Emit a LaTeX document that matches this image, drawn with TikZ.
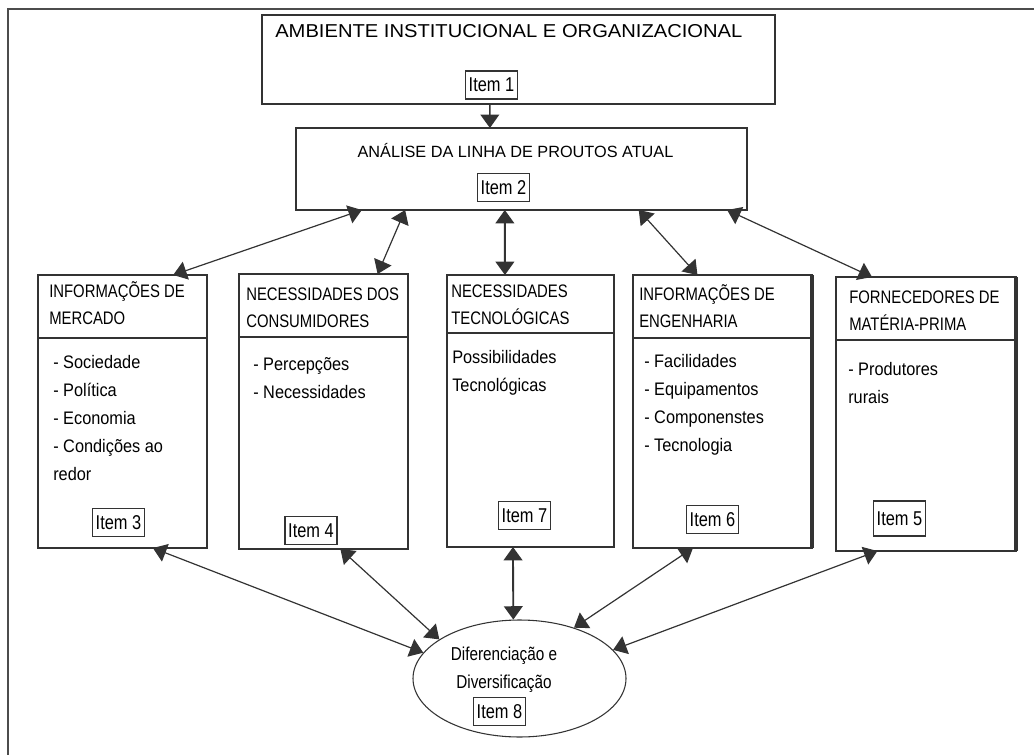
\documentclass[tikz,border=0pt]{standalone}
\usepackage{fontspec}
\setmainfont{Liberation Sans}
\newfontfamily\fcab[FakeStretch=0.82]{Liberation Sans}
\newfontfamily\fcorpo[FakeStretch=0.9]{Liberation Sans}
\newfontfamily\flarga[FakeStretch=1.08]{Liberation Sans}
\usetikzlibrary{positioning, arrows.meta, shapes.geometric, calc}
\definecolor{linha}{gray}{0.2}

\begin{document}
\begin{tikzpicture}[x=0.75pt, y=-0.75pt,
    caixa/.style={draw=linha, line width=1.1pt, inner sep=0pt, outer sep=0pt},
    itembox/.style={draw=linha, line width=1.1pt, font=\fcab\fontsize{15}{18}\selectfont, inner sep=2.5pt, minimum height=21pt},
    cab/.style={font=\fcab\fontsize{13.6}{20.25}\selectfont, align=left, anchor=base west, inner sep=0pt},
    corpo/.style={font=\fcorpo\fontsize{13.6}{21}\selectfont, align=left, anchor=base west, inner sep=0pt},
    seta/.style={{Triangle[length=10pt,width=14pt]}-{Triangle[length=10pt,width=14pt]}, line width=0.9pt, linha}]

  \useasboundingbox (0,0) rectangle (1034,755);
  \draw[line width=1.5pt, black!70] (8,770) -- (8,9) -- (1050,9);

  % --- topo ---
  \node[caixa, minimum width=384.75pt, minimum height=66.75pt] (b1) at (518.5,59.5) {};
  \node[font=\flarga\fontsize{14}{16}\selectfont, anchor=base west, inner sep=0pt] (t1) at (275,38) {AMBIENTE INSTITUCIONAL E ORGANIZACIONAL};
  \node[itembox] (i1) at (491.5,85) {Item 1};

  \node[caixa, minimum width=338.25pt, minimum height=61.5pt] (b2) at (521.5,169) {};
  \node[font=\fontsize{12.2}{14}\selectfont, anchor=base, inner sep=0pt] (t2) at (515.5,158) {ANÁLISE DA LINHA DE PROUTOS ATUAL};
  \node[itembox] (i2) at (503.5,187.5) {Item 2};

  \draw[-{Triangle[length=10pt,width=14pt]}, line width=1.1pt, linha]
    ($(b1.south west)!0.444!(b1.south east)$) -- ($(b2.north west)!0.43!(b2.north east)$);

  % --- blocos (texto ancorado na ultima linha) ---
  \node[caixa, minimum width=126.75pt, minimum height=204.75pt] (b3) at (122.5,411.5) {};
  \draw[caixa] (b3.west |- 0,338) -- (b3.east |- 0,338);
  \node[cab] (t3) at (49,325) {INFORMAÇÕES DE\\MERCADO};
  \node[corpo] (l3) at (53,480) {- Sociedade\\- Política\\- Economia\\- Condições ao\\redor};
  \node[itembox] (i3) at (118.5,522.5) {Item 3};

  \node[caixa, minimum width=126.75pt, minimum height=206.25pt] (b4) at (323.5,411.5) {};
  \draw[line width=2.2pt, linha] (b4.north west) -- (b4.south west);
  \draw[caixa] (b4.west |- 0,337) -- (b4.east |- 0,337);
  \node[cab] (t4) at (246,327) {NECESSIDADES DOS\\CONSUMIDORES};
  \node[corpo] (l4) at (253,398) {- Percepções\\- Necessidades};
  \node[itembox] (i4) at (311,530.5) {Item 4};

  \node[caixa, minimum width=125.25pt, minimum height=204pt] (b7) at (530.5,411) {};
  \draw[caixa] (b7.west |- 0,333) -- (b7.east |- 0,333);
  \node[cab] (t7) at (451,325) {NECESSIDADES\\TECNOLÓGICAS};
  \node[corpo] (l7) at (452,391) {Possibilidades\\Tecnológicas};
  \node[itembox] (i7) at (524.5,515.5) {Item 7};

  \node[caixa, minimum width=134.25pt, minimum height=204.75pt] (b6) at (722.5,411.5) {};
  \draw[line width=3.5pt, linha] (b6.north east) -- (b6.south east);
  \draw[caixa] (b6.west |- 0,338) -- (b6.east |- 0,338);
  \node[cab] (t6) at (639,327) {INFORMAÇÕES DE\\ENGENHARIA};
  \node[corpo] (l6) at (644,451) {- Facilidades\\- Equipamentos\\- Componenstes\\- Tecnologia};
  \node[itembox] (i6) at (712.5,519.5) {Item 6};

  \node[caixa, minimum width=135pt, minimum height=205.5pt] (b5) at (926,414) {};
  \draw[line width=3.5pt, linha] (b5.north east) -- (b5.south east);
  \draw[caixa] (b5.west |- 0,340) -- (b5.east |- 0,340);
  \node[cab] (t5) at (849,330) {FORNECEDORES DE\\MATÉRIA-PRIMA};
  \node[corpo] (l5) at (848,403) {- Produtores\\rurais};
  \node[itembox, minimum height=26pt] (i5) at (899.5,518.5) {Item 5};

  % --- elipse ---
  \node[ellipse, draw=linha, line width=0.8pt, minimum width=159.75pt, minimum height=87.75pt, inner sep=0pt] (b8) at (519.5,678.5) {};
  \node[font=\fcab\fontsize{14}{21}\selectfont, align=center, anchor=base, inner sep=0pt] (t8) at (504,688) {Diferenciação e\\Diversificação};
  \node[itembox] (i8) at (499.5,711.5) {Item 8};

  % --- ligacoes ---
  \draw[seta] ($(b2.south west)!0.146!(b2.south east)$) -- ($(b3.north west)!0.80!(b3.north east)$);
  \draw[seta] ($(b2.south west)!0.242!(b2.south east)$) -- ($(b4.north west)!0.82!(b4.north east)$);
  \draw[seta, line width=1.4pt] ($(b2.south west)!0.463!(b2.south east)$) -- ($(b7.north west)!0.347!(b7.north east)$);
  \draw[seta] ($(b2.south west)!0.76!(b2.south east)$) -- ($(b6.north west)!0.36!(b6.north east)$);
  \draw[seta] ($(b2.south west)!0.956!(b2.south east)$) -- ($(b5.north west)!0.2!(b5.north east)$);

  \draw[seta] ($(b3.south west)!0.68!(b3.south east)$) -- (b8.165);
  \draw[seta] ($(b4.south west)!0.60!(b4.south east)$) -- (b8.154);
  \draw[seta, line width=1.4pt] ($(b7.south west)!0.395!(b7.south east)$) -- (b8.96);
  \draw[seta] ($(b6.south west)!0.335!(b6.south east)$) -- (b8.43);
  \draw[seta] ($(b5.south west)!0.23!(b5.south east)$) -- (b8.17);
\end{tikzpicture}
\end{document}
